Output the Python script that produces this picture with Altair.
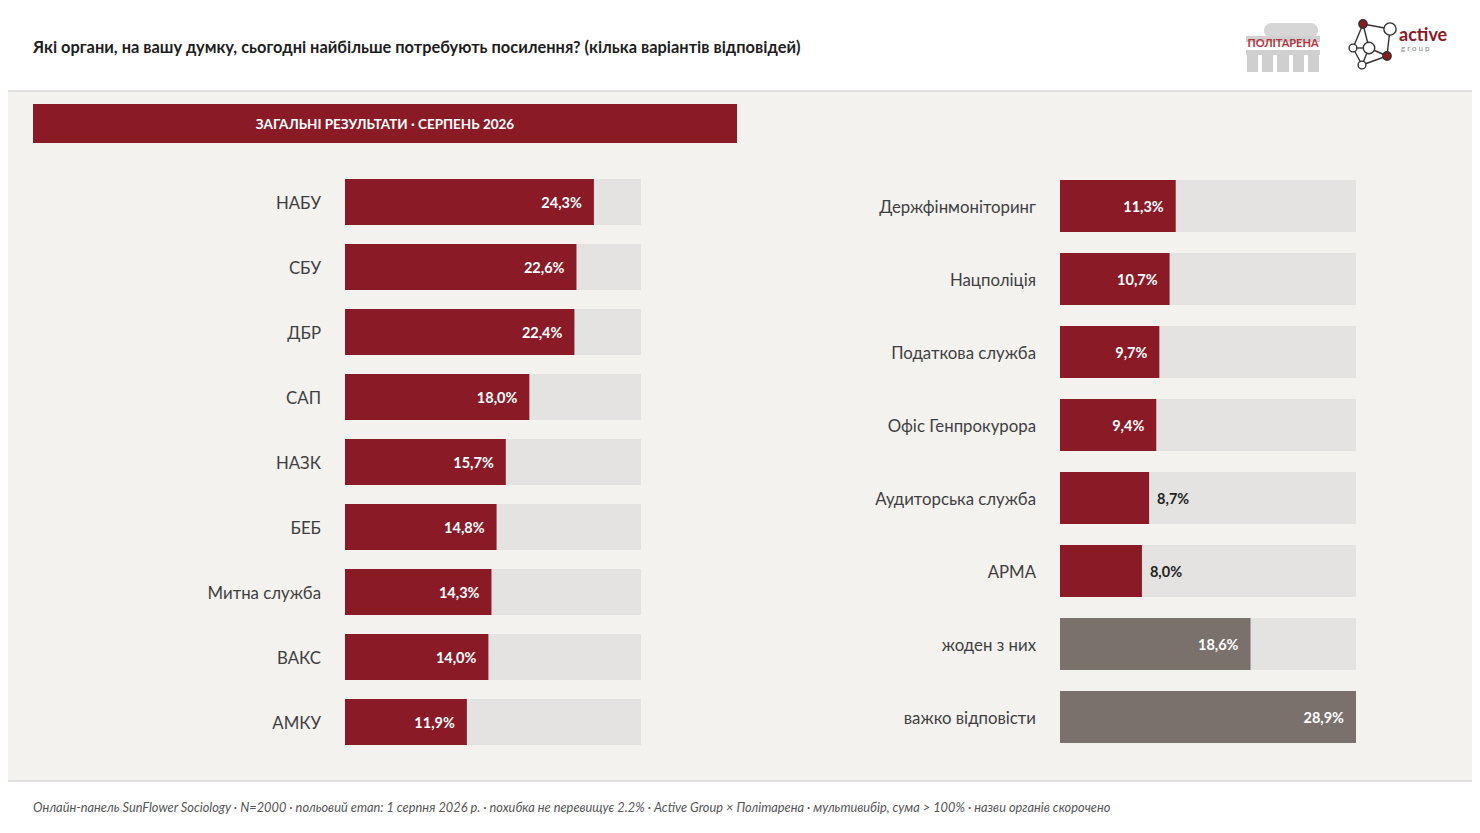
import altair as alt
import pandas as pd

# ---------------- data ----------------
left_names = ["НАБУ", "СБУ", "ДБР", "САП", "НАЗК", "БЕБ", "Митна служба", "ВАКС", "АМКУ"]
left_values = [24.3, 22.6, 22.4, 18.0, 15.7, 14.8, 14.3, 14.0, 11.9]
left_kinds = ["organ"] * 9

right_names = ["Держфінмоніторинг", "Нацполіція", "Податкова служба", "Офіс Генпрокурора",
               "Аудиторська служба", "АРМА", "жоден з них", "важко відповісти"]
right_values = [11.3, 10.7, 9.7, 9.4, 8.7, 8.0, 18.6, 28.9]
right_kinds = ["organ"] * 6 + ["other"] * 2

title_text = "Які органи, на вашу думку, сьогодні найбільше потребують посилення? (кілька варіантів відповідей)"
banner_text = "ЗАГАЛЬНІ РЕЗУЛЬТАТИ · СЕРПЕНЬ 2026"
footer_text = ("Онлайн-панель SunFlower Sociology · N=2000 · польовий етап: 1 серпня 2026 р. · "
               "похибка не перевищує 2.2% · Active Group × Політарена · мультивибір, сума > 100% · "
               "назви органів скорочено")

W, H = 1464, 817
RED = "#8b1a27"
GREYBAR = "#7a716c"
TRACK = "#e5e3e1"
BODY = "#f4f2ef"
FONT = "Lato"

dmax = max(left_values + right_values)


def make_df(names, values, kinds):
    df = pd.DataFrame({"name": names, "value": values, "kind": kinds})
    df["track"] = dmax
    df["label"] = [f"{v:.1f}".replace(".", ",") + "%" for v in values]
    return df


one = alt.Data(values=[{"a": 1}])


def vtext(text, x, y, **kw):
    return alt.Chart(one).mark_text(**kw).encode(
        x=alt.value(x), y=alt.value(y), text=alt.value(text))


def vrect(x, x2, y, y2, color, **kw):
    return alt.Chart(one).mark_rect(color=color, **kw).encode(
        x=alt.value(x), x2=alt.value(x2), y=alt.value(y), y2=alt.value(y2))


def panel(names, values, kinds, xr, yr, p_inner, label_x):
    df = make_df(names, values, kinds)
    xs = alt.Scale(domain=[0, dmax], range=xr, nice=False, zero=True)
    ys = alt.Scale(domain=names, range=yr, paddingInner=p_inner, paddingOuter=p_inner / 2)
    base = alt.Chart(df)
    y = alt.Y("name:N", scale=ys, axis=None, sort=names)
    track = base.mark_bar(color=TRACK).encode(
        x=alt.X("track:Q", scale=xs, axis=None), y=y)
    bars = base.mark_bar().encode(
        x=alt.X("value:Q", scale=xs, axis=None), y=y,
        color=alt.Color("kind:N", scale=alt.Scale(domain=["organ", "other"], range=[RED, GREYBAR]),
                        legend=None))
    inside = base.transform_filter(alt.datum.value >= 9).mark_text(
        align="right", baseline="middle", dx=-12, dy=1.5, font=FONT, fontWeight="bold",
        fontSize=14.5, color="white").encode(
        x=alt.X("value:Q", scale=xs, axis=None), y=y, text="label:N")
    outside = base.transform_filter(alt.datum.value < 9).mark_text(
        align="left", baseline="middle", dx=8, dy=1.5, font=FONT, fontWeight="bold",
        fontSize=14.5, color="#222222").encode(
        x=alt.X("value:Q", scale=xs, axis=None), y=y, text="label:N")
    names_t = base.mark_text(align="right", baseline="middle", dy=1.5, font=FONT, fontSize=16.8,
                             color="#3f3f3f").encode(
        x=alt.value(label_x), y=y, text="name:N")
    return alt.layer(track, bars, inside, outside, names_t)


left = panel(left_names, left_values, left_kinds, [337, 633], [161.5, 746.5], 19 / 65, 313)
right = panel(right_names, right_values, right_kinds, [1052, 1348], [161.5, 745.5], 21 / 73, 1028)

# background regions
bg_body = vrect(0, W, 83, 773, BODY)
line_top = vrect(0, W, 82, 84, "#e2e0dc")
line_bot = vrect(0, W, 772, 774, "#e2e0dc")

title = vtext(title_text, 25, 40, align="left", baseline="middle", font=FONT,
              fontWeight="bold", fontSize=16.4, color="#1e1e1e")
banner = vrect(25, 729, 96, 135, RED)
banner_t = vtext(banner_text, 377, 117, align="center", baseline="middle", font=FONT,
                 fontWeight="bold", fontSize=13.5, color="white")
footer = vtext(footer_text, 25, 800, align="left", baseline="middle", font=FONT,
               fontStyle="italic", fontSize=12.8, color="#555555")

# --- logos (decorative) ---
logo_layers = [
    vrect(1256, 1310, 15, 30, "#d6d6d6", cornerRadius=10),
    vrect(1238, 1312, 28, 34, "#d0d0d0"),
    vrect(1238, 1312, 42, 47, "#d0d0d0"),
    vrect(1239, 1250, 47, 64, "#cfcfcf"),
    vrect(1254, 1265, 47, 64, "#cfcfcf"),
    vrect(1269, 1281, 47, 64, "#cfcfcf"),
    vrect(1285, 1296, 47, 64, "#cfcfcf"),
    vrect(1300, 1311, 47, 64, "#cfcfcf"),
    vtext("ПОЛІТАРЕНА", 1275, 36, align="center", baseline="middle", font=FONT,
          fontWeight="bold", fontSize=11, color="#b5323f"),
]
nodes = [(1355, 16, RED, 70), (1382, 21, "white", 150), (1345, 40, "white", 60),
         (1361, 40, "white", 130), (1379, 48, RED, 70), (1354, 57, "white", 60)]
edges = [(0, 1), (1, 4), (0, 2), (2, 5), (5, 4), (0, 3), (2, 3), (3, 4), (3, 5)]
for a, b in edges:
    xa, ya = nodes[a][0], nodes[a][1]
    xb, yb = nodes[b][0], nodes[b][1]
    logo_layers.append(alt.Chart(one).mark_rule(color="#333333", strokeWidth=1.4).encode(
        x=alt.value(xa), y=alt.value(ya), x2=alt.value(xb), y2=alt.value(yb)))
for x, y, c, s in nodes:
    logo_layers.append(alt.Chart(one).mark_point(filled=True, fill=c, stroke="#333333",
                                                 strokeWidth=1.4, size=s, opacity=1).encode(
        x=alt.value(x), y=alt.value(y)))
logo_layers.append(vtext("active", 1391, 28, align="left", baseline="middle", font=FONT,
                         fontWeight="bold", fontSize=18, color=RED))
logo_layers.append(vtext("g r o u p", 1393, 41, align="left", baseline="middle", font=FONT,
                         fontSize=8, color="#888888"))

chart = alt.layer(
    bg_body, line_top, line_bot, title, banner, banner_t, footer,
    *logo_layers, left, right
).resolve_scale(x="independent", y="independent", color="independent").properties(
    width=W, height=H, autosize=alt.AutoSizeParams(type="none"), padding=0,
    background="white"
).configure_view(stroke=None)

chart.save("out.html", embed_options={"renderer": "svg", "actions": False})
